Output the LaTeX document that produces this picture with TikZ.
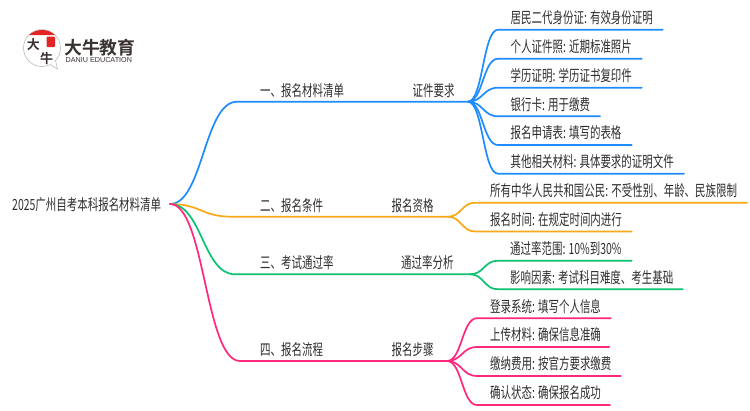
\documentclass[tikz,border=0pt]{standalone}
\usepackage{fontspec}
\setmainfont[FakeStretch=0.68]{Noto Sans CJK SC}
\newfontfamily\logofont[BoldFont={Noto Sans CJK SC Bold}]{Noto Sans CJK SC}
\newfontfamily\logolatin{Liberation Sans}
\definecolor{mapblue}{RGB}{30, 140, 255}
\definecolor{maporange}{RGB}{249, 168, 24}
\definecolor{mapgreen}{RGB}{10, 194, 112}
\definecolor{mappink}{RGB}{255, 40, 125}
\definecolor{maptext}{RGB}{45, 45, 45}
\definecolor{logored}{RGB}{226, 36, 36}
\definecolor{logodark}{RGB}{58, 50, 48}
\tikzset{
  maptitle/.style={anchor=west, inner sep=0pt, text=maptext, font=\fontsize{15.4}{15.4}\selectfont},
  limb/.style={line width=1.7pt, line cap=round, line join=round},
  logochar/.style={inner sep=0pt, text=logodark, font=\logofont\fontsize{13}{13}\selectfont\bfseries},
}

\begin{document}
\begin{tikzpicture}[x=1pt, y=-1pt]
  \useasboundingbox (0,0) rectangle (750,410);

  % logo
  \draw[gray!60, line width=.5pt, fill=white] (42,48) circle (18.5);
  \draw[gray!60, line width=.5pt, fill=white] (50,64.6) -- (57.5,69) -- (55.5,60.6);
  \fill[logored] (29,35) .. controls (33,31.5) and (37,30) .. (42,30) .. controls (47,30) and (51,31.5) .. (55,35) -- cycle;
  \fill[logored, rounded corners=1pt] (46.5,36.5) rectangle (55,47);
  \node (logobig) [logochar] at (33.5,45) {大};
  \node (logoniu) [logochar] at (46.5,58.5) {牛};
  \node (logoname) [inner sep=0pt, anchor=west, text=logodark, font=\logofont\fontsize{17.8}{18}\selectfont\bfseries] at (64,48) {大牛教育};
  \node (logosub) [inner sep=0pt, anchor=west, text=logodark, font=\logolatin\fontsize{7.2}{8}\selectfont] at (65.5,60.5) {DANIU EDUCATION};

  % root and first level
  \node (root) [maptitle] at (12,204.5) {2025广州自考本科报名材料清单};
  \coordinate (hub) at (170,204);

  \node (one) [maptitle] at (260,90.5) {一、报名材料清单};
  \node (onetag) [maptitle] at (412.5,90.5) {证件要求};
  \coordinate (onea) at (237,101.7);
  \coordinate (oneb) at (468,101.7);

  \node (two) [maptitle] at (260,206) {二、报名条件};
  \node (twotag) [maptitle] at (391.5,206) {报名资格};
  \coordinate (twoa) at (232,216.7);
  \coordinate (twob) at (448,216.7);

  \node (three) [maptitle] at (260,263) {三、考试通过率};
  \node (threetag) [maptitle] at (401,263) {通过率分析};
  \coordinate (threea) at (235,274.3);
  \coordinate (threeb) at (470,274.3);

  \node (four) [maptitle] at (260,350) {四、报名流程};
  \node (fourtag) [maptitle] at (391.5,350) {报名步骤};
  \coordinate (foura) at (240,361);
  \coordinate (fourb) at (447,361);

  \draw[limb, mapblue] (hub) .. controls +(33,0) and +(-33,0) .. (onea) -- (oneb);
  \draw[limb, maporange] (hub) .. controls +(31,0) and +(-31,0) .. (twoa) -- (twob);
  \draw[limb, mapgreen] (hub) .. controls +(32,0) and +(-32,0) .. (threea) -- (threeb);
  \draw[limb, mappink] (hub) .. controls +(35,0) and +(-35,0) .. (foura) -- (fourb);

  % leaves
  \foreach \nm/\yy/\xe/\txt in {
    a1/29.7/662.7/居民二代身份证: 有效身份证明,
    a2/58.7/641.7/个人证件照: 近期标准照片,
    a3/87.7/641.7/学历证明: 学历证书复印件,
    a4/116.3/600/银行卡: 用于缴费,
    a5/145/631.7/报名申请表: 填写的表格,
    a6/173.7/684/其他相关材料: 具体要求的证明文件} {
    \node (\nm) [maptitle] at (510.5,\yy-12) {\txt};
    \coordinate (\nm s) at (498,\yy);
    \coordinate (\nm e) at (\xe,\yy);
    \draw[limb, mapblue] (oneb) .. controls +(15,0) and +(-15,0) .. (\nm s) -- (\nm e);
  }
  \foreach \nm/\yy/\xe/\txt in {
    b1/202.7/747/所有中华人民共和国公民: 不受性别、年龄、民族限制,
    b2/231.5/631.7/报名时间: 在规定时间内进行} {
    \node (\nm) [maptitle] at (490,\yy-12) {\txt};
    \coordinate (\nm s) at (475,\yy);
    \coordinate (\nm e) at (\xe,\yy);
    \draw[limb, maporange] (twob) .. controls +(13,0) and +(-13,0) .. (\nm s) -- (\nm e);
  }
  \foreach \nm/\yy/\xe/\txt in {
    c1/260.7/631.7/通过率范围: 10\%到30\%,
    c2/289.3/682.7/影响因素: 考试科目难度、考生基础} {
    \node (\nm) [maptitle] at (510,\yy-12) {\txt};
    \coordinate (\nm s) at (498,\yy);
    \coordinate (\nm e) at (\xe,\yy);
    \draw[limb, mapgreen] (threeb) .. controls +(14,0) and +(-14,0) .. (\nm s) -- (\nm e);
  }
  \foreach \nm/\yy/\xe/\txt in {
    d1/318.2/610.7/登录系统: 填写个人信息,
    d2/347/609.3/上传材料: 确保信息准确,
    d3/376/620.7/缴纳费用: 按官方要求缴费,
    d4/405/610/确认状态: 确保报名成功} {
    \node (\nm) [maptitle] at (490,\yy-12) {\txt};
    \coordinate (\nm s) at (477,\yy);
    \coordinate (\nm e) at (\xe,\yy);
    \draw[limb, mappink] (fourb) .. controls +(15,0) and +(-15,0) .. (\nm s) -- (\nm e);
  }
\end{tikzpicture}
\end{document}
